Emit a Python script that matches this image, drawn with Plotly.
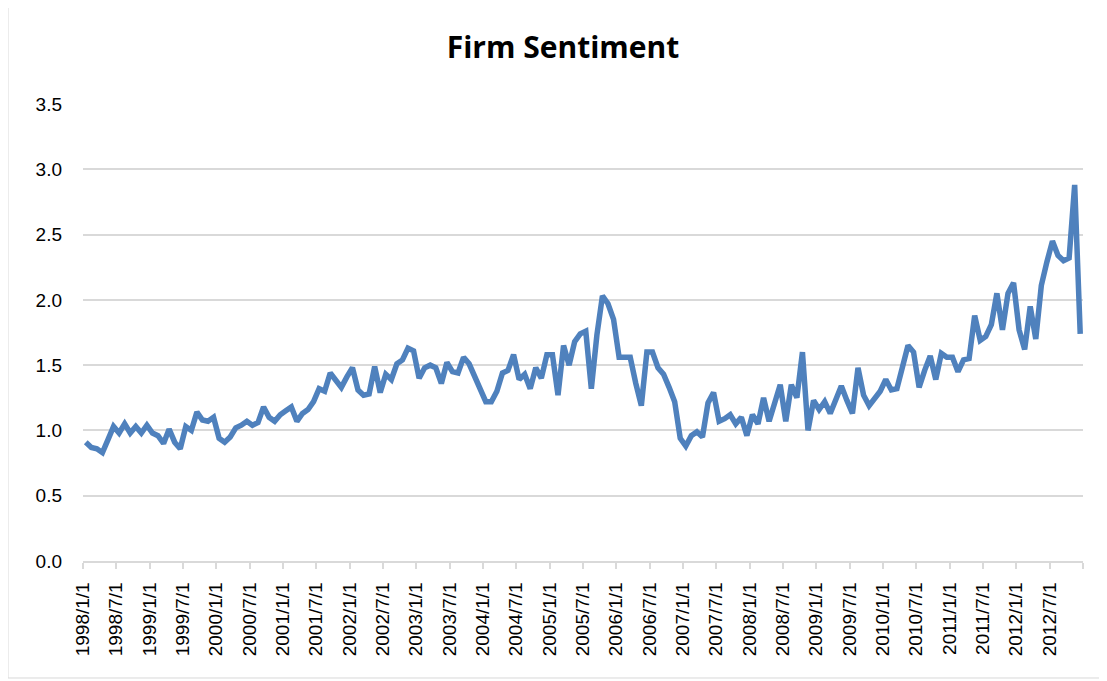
import plotly.graph_objects as go

# monthly index values, 1998/1 .. 2012/12
sentiment = [
    0.91, 0.87, 0.86, 0.83, 0.93, 1.03, 0.98, 1.05, 0.98, 1.03, 0.98, 1.04,
    0.98, 0.96, 0.90, 1.01, 0.91, 0.86, 1.03, 1.00, 1.14, 1.08, 1.07, 1.10,
    0.94, 0.91, 0.95, 1.02, 1.04, 1.07, 1.04, 1.06, 1.18, 1.10, 1.07, 1.12,
    1.15, 1.18, 1.07, 1.13, 1.16, 1.22, 1.32, 1.30, 1.44, 1.39, 1.33, 1.41,
    1.48, 1.31, 1.27, 1.28, 1.49, 1.29, 1.43, 1.39, 1.51, 1.54, 1.63, 1.61,
    1.40, 1.48, 1.50, 1.48, 1.36, 1.52, 1.45, 1.44, 1.56, 1.51, 1.41, 1.31,
    1.22, 1.22, 1.30, 1.44, 1.46, 1.58, 1.39, 1.43, 1.32, 1.48, 1.40, 1.58,
    1.58, 1.27, 1.65, 1.50, 1.68, 1.74, 1.76, 1.32, 1.73, 2.03, 1.97, 1.85,
    1.56, 1.56, 1.56, 1.36, 1.19, 1.60, 1.60, 1.48, 1.43, 1.33, 1.22, 0.94,
    0.88, 0.96, 0.99, 0.95, 1.21, 1.29, 1.07, 1.09, 1.12, 1.05, 1.10, 0.96,
    1.12, 1.05, 1.25, 1.07, 1.21, 1.35, 1.07, 1.35, 1.25, 1.60, 1.00, 1.23,
    1.16, 1.22, 1.13, 1.25, 1.34, 1.23, 1.13, 1.48, 1.27, 1.19, 1.25, 1.30,
    1.39, 1.31, 1.32, 1.47, 1.65, 1.60, 1.33, 1.46, 1.57, 1.39, 1.59, 1.56,
    1.56, 1.45, 1.54, 1.55, 1.88, 1.69, 1.72, 1.81, 2.05, 1.77, 2.05, 2.13,
    1.77, 1.62, 1.95, 1.70, 2.11, 2.29, 2.45, 2.34, 2.30, 2.32, 2.88, 1.74,
]

# category labels, one per month
months = [f"{1998 + i // 12}/{i % 12 + 1}/1" for i in range(len(sentiment))]
x_idx = list(range(len(months)))

# every 6th month is labelled, tick marks sit on the category boundaries
tick_pos = [i - 0.5 for i in range(0, len(months) + 1, 6)]
tick_txt = [months[i] if i < len(months) else "" for i in range(0, len(months) + 1, 6)]

grid = "#d9d9d9"

fig = go.Figure(go.Scatter(
    x=x_idx, y=sentiment, mode="lines",
    line=dict(color="#4f81bd", width=5.5),
    customdata=months,
    hovertemplate="%{customdata}: %{y:.2f}<extra></extra>",
))

# the page body adds an 8px offset, so margins are shifted back by 8px
fig.update_layout(
    width=1107, height=681,
    margin=dict(l=75, r=32, t=96, b=128),
    paper_bgcolor="white", plot_bgcolor="white",
    showlegend=False,
    font=dict(family="Liberation Sans, Arial, sans-serif", size=19, color="black"),
    title=dict(
        text="<b>Firm Sentiment</b>",
        font=dict(family="Open Sans, Liberation Sans, sans-serif", size=30, color="black"),
        x=555 / 1107, xanchor="center", xref="container",
        y=1 - 39 / 681, yanchor="middle", yref="container",
    ),
    shapes=[dict(
        type="rect", xref="paper", yref="paper",
        x0=-0.075, x1=1.017, y0=-0.256, y1=1.223,
        line=dict(color=grid, width=1), layer="below",
    )],
)

fig.update_xaxes(
    range=[-0.5, len(months) - 0.5],
    tickmode="array", tickvals=tick_pos, ticktext=tick_txt,
    tickangle=-90, ticks="outside", ticklen=6, tickcolor=grid, tickwidth=1.5,
    showline=True, linecolor=grid, linewidth=1.5,
    showgrid=False, zeroline=False,
    ticklabelstandoff=6,
)

fig.update_yaxes(
    range=[0, 3.5], dtick=0.5, tickformat=".1f",
    showgrid=True, gridcolor=grid, gridwidth=1.5,
    zeroline=False, showline=False, ticks="",
    ticklabelstandoff=20,
)

fig.write_html("out.html")
